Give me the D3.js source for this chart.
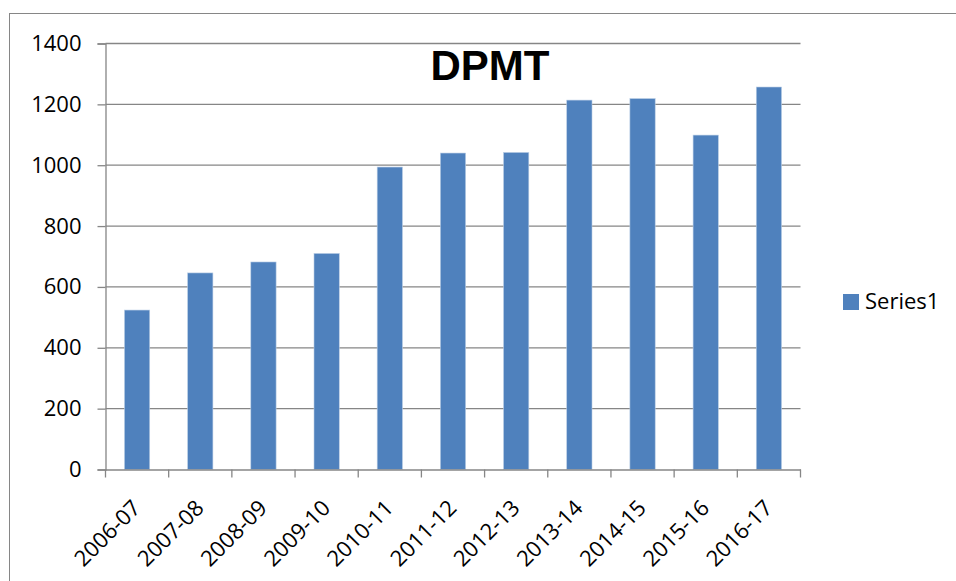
<!DOCTYPE html>
<head>
  <meta charset="utf-8" />
  <script src="https://d3js.org/d3.v7.min.js"></script>
  <style>
    body { margin: 0; background: #fff; }
    svg { display: block; font-family: "Open Sans", sans-serif; }
  </style>
</head>
<body>
  <svg width="956" height="581"></svg>
  <script>
    var categories = ["2006-07", "2007-08", "2008-09", "2009-10", "2010-11", "2011-12",
                      "2012-13", "2013-14", "2014-15", "2015-16", "2016-17"];
    var values = [524, 646, 682, 710, 994, 1040, 1042, 1214, 1219, 1099, 1257];
    var yTicks = [0, 200, 400, 600, 800, 1000, 1200, 1400];
    var seriesName = "Series1";
    var title = "DPMT";

    var svg = d3.select("svg");
    var plotLeft = 105.5, plotRight = 800.5, plotTop = 43.5, plotBottom = 469.5;

    // chart border (runs off the window at right and bottom)
    svg.append("rect")
      .attr("x", 9.5).attr("y", 13.5)
      .attr("width", 1000).attr("height", 700)
      .attr("fill", "none").attr("stroke", "#868686").attr("stroke-width", 1);

    var x = d3.scaleBand().domain(categories).range([plotLeft, plotRight]);
    var y = d3.scaleLinear().domain([0, 1400]).range([plotBottom, plotTop]);

    // gridlines
    svg.append("g").selectAll("line")
      .data(yTicks.slice(1))
      .enter().append("line")
      .attr("x1", plotLeft).attr("x2", plotRight)
      .attr("y1", function (d) { return y(d); })
      .attr("y2", function (d) { return y(d); })
      .attr("stroke", "#868686").attr("stroke-width", 1.3);

    // bars
    var bw = x.bandwidth() * 0.4;
    svg.append("g").selectAll("rect")
      .data(values)
      .enter().append("rect")
      .attr("x", function (d, i) { return x(categories[i]) + (x.bandwidth() - bw) / 2; })
      .attr("y", function (d) { return y(d); })
      .attr("width", bw)
      .attr("height", function (d) { return plotBottom - y(d); })
      .attr("fill", "#4f81bd")
      .attr("stroke", "#b9cde5").attr("stroke-width", 0.6);

    // y axis
    var yAxis = svg.append("g")
      .attr("transform", "translate(" + plotLeft + ",0)")
      .call(d3.axisLeft(y).tickValues(yTicks).tickFormat(d3.format("d")).tickSize(8).tickPadding(16));
    yAxis.select(".domain").attr("stroke", "#868686").attr("stroke-width", 1.3);
    yAxis.selectAll(".tick line").attr("stroke", "#868686").attr("stroke-width", 1.3);
    yAxis.selectAll("text").attr("font-size", 22).attr("fill", "#000")
      .attr("font-family", "Open Sans, sans-serif");

    // x axis
    var xAxis = svg.append("g")
      .attr("transform", "translate(0," + plotBottom + ")")
      .call(d3.axisBottom(x).tickSize(0).tickFormat(""));
    xAxis.select(".domain").attr("stroke", "#868686").attr("stroke-width", 1.3);

    var bounds = categories.map(function (c) { return x(c); }).concat([plotRight]);
    svg.append("g").selectAll("line")
      .data(bounds)
      .enter().append("line")
      .attr("x1", function (d) { return d; }).attr("x2", function (d) { return d; })
      .attr("y1", plotBottom).attr("y2", plotBottom + 8)
      .attr("stroke", "#868686").attr("stroke-width", 1.3);

    // rotated category labels
    svg.append("g").selectAll("text")
      .data(categories)
      .enter().append("text")
      .attr("transform", function (d) {
        return "translate(" + (x(d) + x.bandwidth() / 2 - 6) + "," + (plotBottom + 29) + ") rotate(-45)";
      })
      .attr("text-anchor", "end")
      .attr("dy", "0.7em")
      .attr("font-size", 22)
      .attr("fill", "#000")
      .text(function (d) { return d; });

    // title
    svg.append("text")
      .attr("x", 490).attr("y", 80)
      .attr("text-anchor", "middle")
      .attr("font-family", "Liberation Sans, Arial, sans-serif")
      .attr("font-weight", "bold")
      .attr("font-size", 42)
      .attr("fill", "#000")
      .text(title);

    // legend
    svg.append("rect")
      .attr("x", 843).attr("y", 294)
      .attr("width", 16).attr("height", 16)
      .attr("fill", "#4f81bd");
    svg.append("text")
      .attr("x", 865).attr("y", 309)
      .attr("font-size", 22)
      .attr("fill", "#000")
      .text(seriesName);
  </script>
</body>
